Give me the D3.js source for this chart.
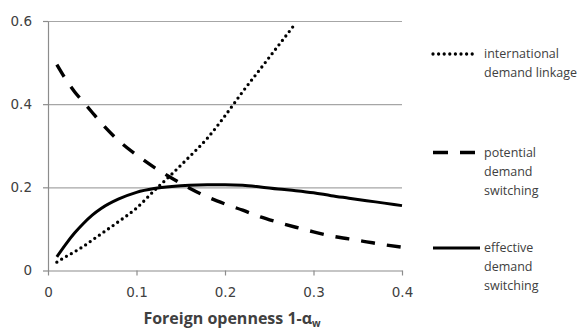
<!DOCTYPE html>
<html>
<head>
<meta charset="utf-8">
<script src="https://cdn.jsdelivr.net/npm/d3@7"></script>
<style>
  html, body { margin: 0; padding: 0; background: #fff; }
  svg { display: block; }
</style>
</head>
<body>
<svg id="chart" width="588" height="329"></svg>
<script>
// openness values (x) shared by the switching series
const openness = [0.01, 0.02, 0.03, 0.04, 0.05, 0.06, 0.08, 0.10, 0.12, 0.14, 0.16, 0.18,
  0.20, 0.22, 0.24, 0.26, 0.28, 0.30, 0.32, 0.34, 0.36, 0.38, 0.40];
const effective = [0.033, 0.063, 0.090, 0.113, 0.133, 0.149, 0.172, 0.188, 0.197, 0.202, 0.205, 0.206,
  0.206, 0.205, 0.201, 0.196, 0.192, 0.187, 0.180, 0.174, 0.168, 0.162, 0.156];
const potential = [0.495, 0.460, 0.430, 0.405, 0.380, 0.355, 0.312, 0.278, 0.248, 0.222, 0.198, 0.177,
  0.160, 0.145, 0.129, 0.116, 0.104, 0.093, 0.083, 0.076, 0.069, 0.062, 0.056];
// linkage stops where it leaves the 0.6 axis top
const linkageX = [0.01, 0.02, 0.03, 0.04, 0.05, 0.06, 0.08, 0.10, 0.12, 0.14, 0.16, 0.18, 0.20, 0.22, 0.24, 0.26, 0.28];
const linkage = [0.020, 0.033, 0.045, 0.058, 0.073, 0.088, 0.118, 0.150, 0.192, 0.232, 0.274, 0.318,
  0.372, 0.430, 0.485, 0.540, 0.595];

const xTicks = [0, 0.1, 0.2, 0.3, 0.4];
const yTicks = [0, 0.2, 0.4, 0.6];

const series = [
  { key: "linkage", xs: linkageX, ys: linkage, dash: "0,5.6", width: 3.3, cap: "round",
    label: ["international", "demand linkage"] },
  { key: "potential", xs: openness, ys: potential, dash: "14,12", width: 3.4, cap: "butt",
    label: ["potential", "demand", "switching"] },
  { key: "effective", xs: openness, ys: effective, dash: null, width: 3, cap: "butt",
    label: ["effective", "demand", "switching"] },
];

const TEXT = "#404040";
const GRID = "#a6a6a6";
const AXIS = "#8c8c8c";

const margin = { top: 21, left: 48 };
const w = 354, h = 249.5;

const svg = d3.select("#chart");
const g = svg.append("g").attr("transform", `translate(${margin.left},${margin.top})`);

const x = d3.scaleLinear().domain([0, 0.4]).range([0, w]);
const y = d3.scaleLinear().domain([0, 0.6]).range([h, 0]);

// Horizontal gridlines
g.append("g")
  .call(d3.axisLeft(y).tickValues(yTicks.filter((d) => d > 0)).tickSize(-w).tickFormat(""))
  .call((a) => a.select(".domain").remove())
  .call((a) => a.selectAll("line").attr("stroke", GRID).attr("stroke-width", 1.2));

// Y axis
g.append("g")
  .call(d3.axisLeft(y).tickValues(yTicks).tickSize(5).tickSizeOuter(0).tickFormat(d3.format(".1~f")))
  .call((a) => a.select(".domain").attr("stroke", AXIS).attr("stroke-width", 1.2))
  .call((a) => a.selectAll("line").attr("stroke", AXIS).attr("stroke-width", 1.2))
  .call((a) => a.selectAll("text")
    .attr("x", -16)
    .attr("fill", TEXT)
    .attr("font-family", "DejaVu Sans")
    .attr("font-size", 13.5));

// X axis
g.append("g")
  .attr("transform", `translate(0,${h})`)
  .call(d3.axisBottom(x).tickValues(xTicks).tickSize(5).tickSizeOuter(0).tickFormat(d3.format(".1~f")))
  .call((a) => a.select(".domain").attr("stroke", AXIS).attr("stroke-width", 1.2))
  .call((a) => a.selectAll("line").attr("stroke", AXIS).attr("stroke-width", 1.2))
  .call((a) => a.selectAll("text")
    .attr("y", 17)
    .attr("fill", TEXT)
    .attr("font-family", "DejaVu Sans")
    .attr("font-size", 13.5));

// X axis title
const title = svg.append("text")
  .attr("x", 232)
  .attr("y", 324)
  .attr("text-anchor", "middle")
  .attr("fill", TEXT)
  .attr("font-family", "Open Sans")
  .attr("font-weight", 700)
  .attr("font-size", 16);
title.append("tspan").text("Foreign openness 1-α");
title.append("tspan").attr("font-size", 10).attr("dy", 2.5).text("w");

// Curves
const line = d3.line()
  .x((d) => x(d[0]))
  .y((d) => y(d[1]))
  .curve(d3.curveMonotoneX);

for (const s of series) {
  g.append("path")
    .datum(s.xs.map((v, i) => [v, s.ys[i]]))
    .attr("d", line)
    .attr("fill", "none")
    .attr("stroke", "#000")
    .attr("stroke-width", s.width)
    .attr("stroke-linecap", s.cap)
    .attr("stroke-dasharray", s.dash);
}

// Legend
const legendRows = [54, 152.5, 248];
const lineH = 19;
series.forEach((s, i) => {
  const ly = legendRows[i];
  svg.append("line")
    .attr("x1", 433).attr("x2", s.key === "effective" ? 480 : 476)
    .attr("y1", ly).attr("y2", ly)
    .attr("stroke", "#000")
    .attr("stroke-width", s.width)
    .attr("stroke-linecap", s.cap)
    .attr("stroke-dasharray", s.key === "potential" ? "15,12" : s.dash);
  s.label.forEach((t, j) => {
    svg.append("text")
      .attr("x", 484)
      .attr("y", ly + j * lineH)
      .attr("dy", "0.35em")
      .attr("fill", TEXT)
      .attr("font-family", "Open Sans")
      .attr("font-size", 12.5)
      .text(t);
  });
});
</script>
</body>
</html>
